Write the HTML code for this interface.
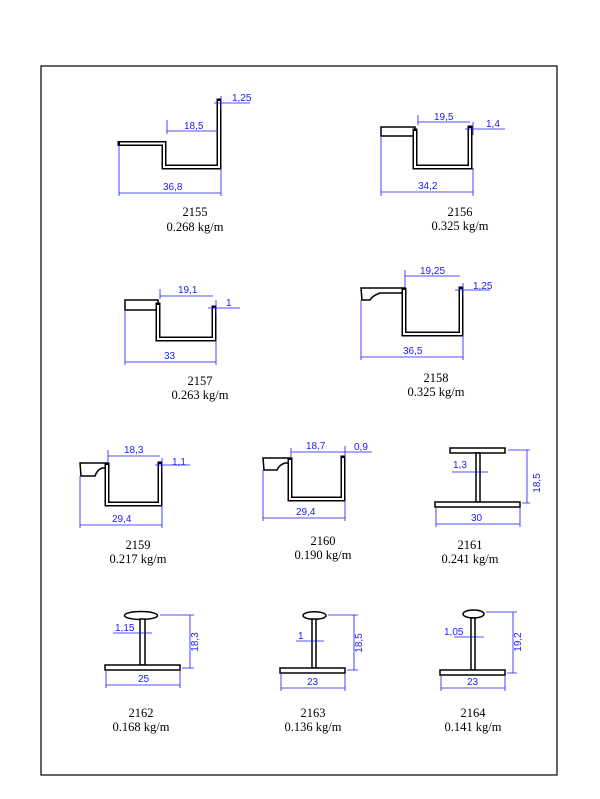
<!DOCTYPE html>
<html><head><meta charset="utf-8"><style>
html,body{margin:0;padding:0;background:#fff;}
svg{display:block;}
.d{stroke:#1a1aff;stroke-width:0.8;fill:none;}
.t{font-family:"Liberation Sans",sans-serif;font-size:10px;fill:#1a1aff;}
.l{font-family:"Liberation Serif",serif;font-size:12.5px;fill:#000;text-anchor:middle;}
.po{stroke:#000;stroke-width:5;fill:none;stroke-linejoin:miter;stroke-linecap:square;}
.pi{stroke:#fff;stroke-width:2;fill:none;stroke-linejoin:miter;stroke-linecap:butt;}
.f{stroke:#000;stroke-width:1.5;fill:#fff;}
</style></head><body>
<svg width="600" height="799" viewBox="0 0 600 799">
<rect x="41" y="66" width="516" height="709" fill="none" stroke="#000" stroke-width="1.2"/>

<!-- 2155 -->
<path class="po" d="M120 143.5 H164 V167 H219 V101"/>
<path class="pi" d="M120 143.5 H164 V167 H219 V101"/>
<path class="d" d="M119 145 V196 M221 168 V196 M119 193 H221 M167 120 V134 M167 131 H218 M214 103 H250 M221 96 V110"/>
<text class="t" x="184" y="129">18,5</text><text class="t" x="232" y="101">1,25</text><text class="t" x="163" y="190">36,8</text>
<text class="l" x="195" y="216">2155</text><text class="l" x="195" y="231">0.268 kg/m</text>

<!-- 2156 -->
<rect class="f" x="381" y="127" width="34" height="9"/>
<path class="po" d="M415 131 V167 H470 V128"/>
<path class="pi" d="M415 131 V167 H470 V128"/>
<path class="d" d="M381 137 V196 M473 168 V196 M381 192 H473 M418 115 V125 M418 122 H470 M465 129 H505 M473 122 V135"/>
<text class="t" x="434" y="120">19,5</text><text class="t" x="486" y="127">1,4</text><text class="t" x="418" y="189">34,2</text>
<text class="l" x="460" y="216">2156</text><text class="l" x="460" y="230">0.325 kg/m</text>

<!-- 2157 -->
<rect class="f" x="125" y="300" width="33" height="10"/>
<path class="po" d="M158 305 V339 H214 V308"/>
<path class="pi" d="M158 305 V339 H214 V308"/>
<path class="d" d="M125 311 V365 M216 340 V365 M125 362 H216 M160 289 V299 M160 296 H213 M208 308 H240 M216 300 V314"/>
<text class="t" x="178" y="293">19,1</text><text class="t" x="226" y="306">1</text><text class="t" x="164" y="359">33</text>
<text class="l" x="200" y="385">2157</text><text class="l" x="200" y="399">0.263 kg/m</text>

<!-- 2158 -->
<path class="f" d="M361 288 H404 V293 H380 Q372 296 370 300 H362 Z"/>
<path class="po" d="M404 290 V334 H461 V289"/>
<path class="pi" d="M404 290 V334 H461 V289"/>
<path class="d" d="M361 300 V360 M463 335 V360 M361 357 H463 M405 270 V288 M405 276 H460 M455 290 H490 M463 283 V297"/>
<text class="t" x="420" y="274">19,25</text><text class="t" x="473" y="289">1,25</text><text class="t" x="403" y="354">36,5</text>
<text class="l" x="436" y="382">2158</text><text class="l" x="436" y="396">0.325 kg/m</text>

<!-- 2159 -->
<path class="f" d="M80 463 H107 V468 H102 Q97 470 95 476 H81 Z"/>
<path class="po" d="M107 465 V504 H160 V464"/>
<path class="pi" d="M107 465 V504 H160 V464"/>
<path class="d" d="M80 476 V528 M162 505 V528 M80 525 H162 M108 450 V463 M108 456 H160 M155 465 H190 M162 458 V472"/>
<text class="t" x="124" y="453">18,3</text><text class="t" x="172" y="465">1,1</text><text class="t" x="112" y="522">29,4</text>
<text class="l" x="138" y="549">2159</text><text class="l" x="138" y="563">0.217 kg/m</text>

<!-- 2160 -->
<path class="f" d="M263 458 H290 V463 H285 Q279 465 277 470 H264 Z"/>
<path class="po" d="M290 460 V499 H343 V458"/>
<path class="pi" d="M290 460 V499 H343 V458"/>
<path class="d" d="M263 470 V521 M345 500 V521 M263 518 H345 M291 448 V458 M291 452 H343 M338 452 H372 M345 446 V458"/>
<text class="t" x="306" y="449">18,7</text><text class="t" x="354" y="450">0,9</text><text class="t" x="296" y="515">29,4</text>
<text class="l" x="323" y="545">2160</text><text class="l" x="323" y="559">0.190 kg/m</text>

<!-- 2161 -->
<rect class="f" x="450" y="448" width="55" height="5"/>
<rect class="f" x="476" y="453" width="4" height="49"/>
<rect class="f" x="435" y="502" width="85" height="5"/>
<path class="d" d="M508 450 H530 M522 503 H530 M527 450 V503 M436 508 V527 M520 508 V527 M436 524 H520 M452 472 H488"/>
<text class="t" x="534" y="477" transform="rotate(-90 540 477)" text-anchor="middle">18,5</text>
<text class="t" x="453" y="468">1,3</text><text class="t" x="471" y="521">30</text>
<text class="l" x="470" y="549">2161</text><text class="l" x="470" y="563">0.241 kg/m</text>

<!-- 2162 -->
<ellipse class="f" cx="141" cy="615.5" rx="16.5" ry="4"/>
<rect class="f" x="140" y="619" width="5" height="46"/>
<rect class="f" x="105" y="665" width="75" height="5"/>
<path class="d" d="M160 615 H194 M182 668 H194 M190 615 V668 M106 671 V688 M180 671 V688 M106 685 H180 M113 633 H152"/>
<text class="t" x="198" y="642" transform="rotate(-90 198 642)" text-anchor="middle">18,3</text>
<text class="t" x="115" y="631">1,15</text><text class="t" x="138" y="682">25</text>
<text class="l" x="141" y="717">2162</text><text class="l" x="141" y="731">0.168 kg/m</text>

<!-- 2163 -->
<ellipse class="f" cx="314.5" cy="615.5" rx="11.5" ry="3.8"/>
<rect class="f" x="312" y="619" width="4" height="49"/>
<rect class="f" x="280" y="668" width="65" height="5"/>
<path class="d" d="M328 615 H358 M347 670 H358 M354 615 V670 M281 674 V691 M345 674 V691 M281 688 H345 M296 641 H324"/>
<text class="t" x="362" y="643" transform="rotate(-90 362 643)" text-anchor="middle">18,5</text>
<text class="t" x="298" y="639">1</text><text class="t" x="307" y="685">23</text>
<text class="l" x="313" y="717">2163</text><text class="l" x="313" y="731">0.136 kg/m</text>

<!-- 2164 -->
<ellipse class="f" cx="473.5" cy="614" rx="10.5" ry="4"/>
<rect class="f" x="471" y="618" width="4" height="52"/>
<rect class="f" x="440" y="670" width="65" height="5"/>
<path class="d" d="M486 612 H517 M507 673 H517 M513 612 V673 M441 676 V691 M505 676 V691 M441 688 H505 M454 637 H484"/>
<text class="t" x="521" y="642" transform="rotate(-90 521 642)" text-anchor="middle">19,2</text>
<text class="t" x="444" y="635">1,05</text><text class="t" x="467" y="685">23</text>
<text class="l" x="473" y="717">2164</text><text class="l" x="473" y="731">0.141 kg/m</text>
</svg>
</body></html>
